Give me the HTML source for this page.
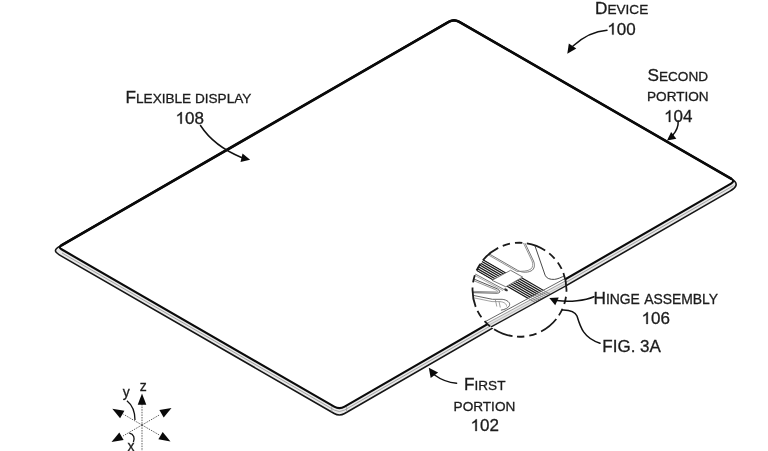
<!DOCTYPE html>
<html><head><meta charset="utf-8"><style>
html,body{margin:0;padding:0;background:#fff;width:768px;height:451px;overflow:hidden}
svg{display:block;filter:blur(0.5px)}
text{font-family:"Liberation Sans",sans-serif;fill:#1c1c1c;stroke:#1c1c1c;stroke-width:0.3px}
</style></head><body>
<svg width="768" height="451" viewBox="0 0 768 451">
<defs><filter id="sb" x="-5%" y="-5%" width="110%" height="110%"><feGaussianBlur stdDeviation="0.3"/></filter></defs>
<rect width="768" height="451" fill="#fff"/>
<path d="M448.80,21.80 Q454.00,18.80 459.20,21.80 L731.50,178.92 C738.60,183.02 737.10,187.02 730.00,191.12 L344.60,413.50 Q339.40,416.50 334.20,413.50 L61.00,255.86 C54.68,252.21 53.18,250.08 59.50,246.43 Z" fill="#e8e8e8" stroke="#151515" stroke-width="1.6" stroke-linejoin="round"/>
<path d="M62.00,252.99 L334.20,410.05 Q339.40,413.05 344.60,410.05 L733.50,185.65" fill="none" stroke="#909090" stroke-width="0.8"/>
<path d="M331.8,406.21 v5.40 M346.6,406.45 v5.40" stroke="#999" stroke-width="0.8"/>
<path d="M448.80,21.80 Q454.00,18.80 459.20,21.80 L731.02,178.60 Q735.35,181.10 731.02,183.60 L344.60,406.60 Q339.40,409.60 334.20,406.60 L61.51,249.30 Q58.05,247.30 61.51,245.30 Z" fill="#fff" stroke="#0a0a0a" stroke-width="2.15" stroke-linejoin="round"/>
<path d="M61.51,245.30 L448.80,21.80 Q454.00,18.80 459.20,21.80 L731.02,178.60" fill="none" stroke="#0a0a0a" stroke-width="2.7" stroke-linecap="round"/>

<clipPath id="cc"><circle cx="519.5" cy="289.75" r="47.0"/></clipPath>
<g clip-path="url(#cc)">
<circle cx="519.5" cy="289.75" r="47.0" fill="#fff"/>

<path d="M470,329.86 L580,270.46 L580,278.14 L470,338.48Z" fill="#fff"/>
<path d="M470,332.46 L580,273.06 L580,278.14 L470,338.48Z" fill="#e6e6e6"/>

<clipPath id="cu"><path d="M460.00,245.57 L506.60,272.40 L492.00,280.30 L460.00,261.84Z"/></clipPath>
<clipPath id="cl"><path d="M522.60,277.00 L544.49,289.64 L527.04,299.06 L505.80,286.80Z"/></clipPath>
<g clip-path="url(#cu)"><g filter="url(#sb)"><path d="M460,246.50 L580,315.74 M460,248.89 L580,318.13 M460,251.30 L580,320.53 M460,253.69 L580,322.93 M460,256.10 L580,325.34 M460,258.50 L580,327.74 M460,260.89 L580,330.13 " stroke="#1a1a1a" stroke-width="1.25" fill="none"/></g></g>
<g clip-path="url(#cl)"><g filter="url(#sb)"><path d="M460,242.25 L580,311.49 M460,244.64 L580,313.88 M460,247.05 L580,316.28 M460,249.44 L580,318.68 M460,251.85 L580,321.09 M460,254.25 L580,323.49 M460,256.64 L580,325.88 M460,259.05 L580,328.28 " stroke="#1a1a1a" stroke-width="1.25" fill="none"/></g></g>
<clipPath id="ct"><path d="M544.49,289.64 L551.80,293.86 L534.48,303.36 L527.04,299.06Z"/></clipPath>
<g clip-path="url(#ct)"><path d="M460,242.25 L580,311.49 M460,244.64 L580,313.88 M460,247.05 L580,316.28 M460,249.44 L580,318.68 M460,251.85 L580,321.09 M460,254.25 L580,323.49 M460,256.64 L580,325.88 M460,259.05 L580,328.28 " stroke="#555" stroke-width="0.8" fill="none"/></g>

<path d="M470,329.86 L580,270.46" stroke="#555" stroke-width="0.9"/>
<path d="M470,332.46 L580,273.06" stroke="#888" stroke-width="0.8"/>
<path d="M470,335.26 L580,275.86" stroke="#aaa" stroke-width="0.7"/>
<path d="M470,338.48 L580,278.14" stroke="#1a1a1a" stroke-width="1.4"/>

<path d="M510.60,270.30 L522.60,277.00 L505.80,286.80 L492.00,280.30Z" fill="#fff" stroke="#666" stroke-width="0.9"/>
<path d="M460,237.07 L517.5,270.25 C521.5,272.8 529,273 532.5,270 C535,267.5 534.8,264 533.5,261 L524,241" fill="none" stroke="#666" stroke-width="0.9"/>
<path d="M460,238.57 L517,271.46 C521,271.2 528,271.5 531,269 C533,267 533.2,264 532,261 L522.5,241" fill="none" stroke="#888" stroke-width="0.9"/>
<path d="M533.3,241 L545.1,275.2 C546.5,278.5 550,279.6 554.4,279.4 C558,279 561,277.5 566,275" fill="none" stroke="#333" stroke-width="0.9"/>
<path d="M460,265.8 L504,289.5" stroke="#666" stroke-width="0.9"/>
<path d="M460,267.4 L503,290.6" stroke="#999" stroke-width="0.8"/>
<path d="M460,273.2 L496,288.3 C500,290 501.5,292.8 497.3,293.2 L460,292.4" fill="none" stroke="#555" stroke-width="1"/>
<path d="M460,275 L495.5,289.7 C498.3,291 498.6,292 496.5,292 L460,291" fill="none" stroke="#888" stroke-width="0.9"/>
<path d="M460,292.7 L492.4,299.3 L502.1,299.3 C507,299.8 510.5,302.5 509.5,305.4 C508.5,308 505,309.5 500.9,310.2" fill="none" stroke="#555" stroke-width="0.9"/>
<path d="M460,295 L492,301.6 L500,301.6 C504,302 507,304 506.5,306.5" fill="none" stroke="#999" stroke-width="0.9"/>
<path d="M495.3,299.5 L496.8,306.5 M499,301.6 L500.3,307.5" stroke="#888" stroke-width="0.8"/>
<ellipse cx="506" cy="289.8" rx="2" ry="1.2" fill="#333" transform="rotate(25 506 289.8)"/>
</g>
<circle cx="519.5" cy="289.75" r="47.0" fill="none" stroke="#1a1a1a" stroke-width="1.8" stroke-dasharray="19.8 5 7.5 5 7.5 4.44" stroke-dashoffset="17.74"/>


<g fill="none" stroke="#111" stroke-width="1.5" stroke-linecap="round">
<path d="M607,30.2 C596,31 585,35 573,46"/>
<path d="M200.5,125.5 C206,134 216,147 242,157.7"/>
<path d="M678.2,121 C678.5,127 676.5,131 672.5,135.5"/>
<path d="M456.6,383.3 C448,382.5 440,379 434.6,375"/>
<path d="M557,300.5 C570,302.5 585,300.5 594,296.7"/>
<path d="M562.3,310 C566,310.2 574,309.8 577,316 C580,326 583,338 600,343.2"/>
</g>
<g fill="#0a0a0a">
<polygon points="567.30,53.80 568.85,43.49 576.30,48.54"/>
<polygon points="250.10,159.70 240.53,161.97 242.54,153.41"/>
<polygon points="667.00,140.40 671.14,131.92 676.30,138.80"/>
<polygon points="428.80,367.70 438.08,372.53 430.69,377.99"/>
<polygon points="549.30,297.90 558.72,297.38 555.23,305.24"/>
</g>


<g stroke="#444" stroke-width="0.85" stroke-dasharray="1.5 1.1" fill="none">
<path d="M142,404 L142,451"/>
<path d="M142,425 L160,414.6"/>
<path d="M142,425 L123.5,414.3"/>
<path d="M142,425 L123,436"/>
<path d="M142,425 L160,435.4"/>
</g>
<g fill="#0a0a0a">
<polygon points="142.00,393.40 146.30,404.70 137.70,404.70"/>
<polygon points="171.50,408.00 163.69,417.47 159.39,410.03"/>
<polygon points="112.30,408.80 124.41,410.83 120.11,418.27"/>
<polygon points="111.50,442.00 119.31,432.53 123.61,439.97"/>
<polygon points="170.50,441.40 158.39,439.37 162.69,431.93"/>
</g>
<g fill="none" stroke="#111" stroke-width="1.3">
<path d="M126.9,400.7 C131,404 135,411 135,420.1"/>
<path d="M129.3,433.1 C134,434 135,438 133.4,442"/>
</g>
<text x="139.8" y="391.3" font-size="14">z</text>
<text x="122.8" y="396.6" font-size="14">y</text>
<text x="127.5" y="451" font-size="14">x</text>

<g font-size="17">
<text x="595" y="14.1"><tspan font-size="17.2">D</tspan><tspan font-size="13.6">EVICE</tspan></text>
<path d="M763,0 L583,0 L583,1098 Q518,1039 412,980 Q307,920 223,890 L223,1057 Q374,1125 487,1222 Q600,1318 647,1409 L763,1409 Z" transform="translate(607.3,34.6) scale(0.008301,-0.008301)" fill="#1c1c1c" stroke="#1c1c1c" stroke-width="0.3" vector-effect="non-scaling-stroke"/><text x="616.75" y="34.6">00</text>
<text x="125.5" y="102.5"><tspan font-size="17.2">F</tspan><tspan font-size="13.6">LEXIBLE DISPLAY</tspan></text>
<path d="M763,0 L583,0 L583,1098 Q518,1039 412,980 Q307,920 223,890 L223,1057 Q374,1125 487,1222 Q600,1318 647,1409 L763,1409 Z" transform="translate(175.5,123.7) scale(0.008301,-0.008301)" fill="#1c1c1c" stroke="#1c1c1c" stroke-width="0.3" vector-effect="non-scaling-stroke"/><text x="184.95" y="123.7">08</text>
<text x="647.5" y="81"><tspan font-size="17.2">S</tspan><tspan font-size="13.6">ECOND</tspan></text>
<text x="647" y="100.9" font-size="13.6">PORTION</text>
<path d="M763,0 L583,0 L583,1098 Q518,1039 412,980 Q307,920 223,890 L223,1057 Q374,1125 487,1222 Q600,1318 647,1409 L763,1409 Z" transform="translate(664,121.9) scale(0.008301,-0.008301)" fill="#1c1c1c" stroke="#1c1c1c" stroke-width="0.3" vector-effect="non-scaling-stroke"/><text x="673.45" y="121.9">04</text>
<text x="593.5" y="303.8"><tspan font-size="17.2">H</tspan><tspan font-size="13.9">INGE</tspan><tspan font-size="13.9" dx="1.2"> ASSEMBLY</tspan></text>
<path d="M763,0 L583,0 L583,1098 Q518,1039 412,980 Q307,920 223,890 L223,1057 Q374,1125 487,1222 Q600,1318 647,1409 L763,1409 Z" transform="translate(641.5,323.9) scale(0.008301,-0.008301)" fill="#1c1c1c" stroke="#1c1c1c" stroke-width="0.3" vector-effect="non-scaling-stroke"/><text x="650.95" y="323.9">06</text>
<text x="602.3" y="352">FIG. 3A</text>
<text x="464" y="390"><tspan font-size="17.2">F</tspan><tspan font-size="13.6">IRST</tspan></text>
<text x="453.6" y="410.6" font-size="13.6">PORTION</text>
<path d="M763,0 L583,0 L583,1098 Q518,1039 412,980 Q307,920 223,890 L223,1057 Q374,1125 487,1222 Q600,1318 647,1409 L763,1409 Z" transform="translate(470.5,431) scale(0.008301,-0.008301)" fill="#1c1c1c" stroke="#1c1c1c" stroke-width="0.3" vector-effect="non-scaling-stroke"/><text x="479.95" y="431">02</text>
</g>
</svg>
</body></html>
